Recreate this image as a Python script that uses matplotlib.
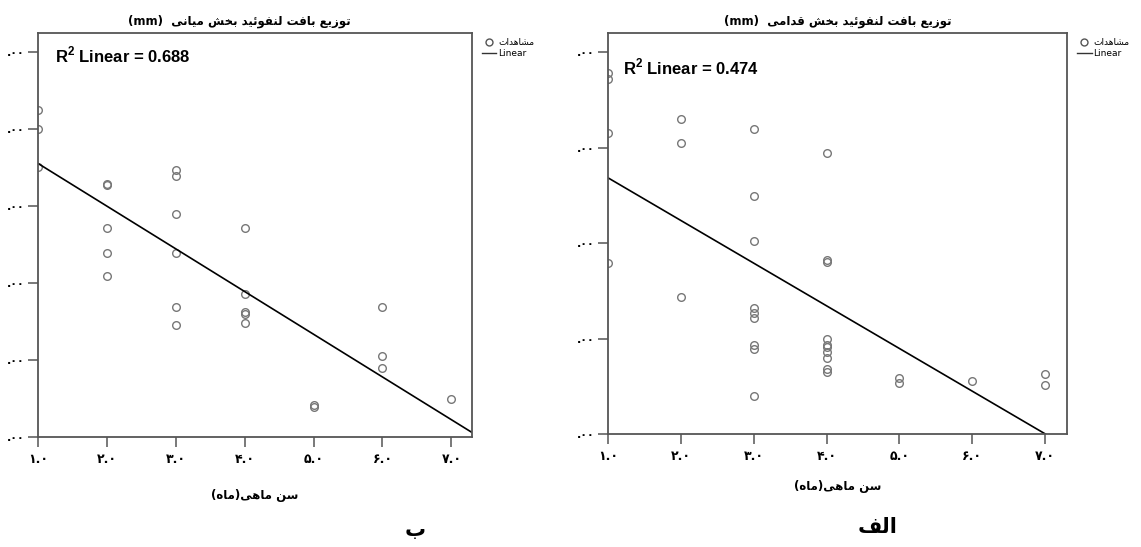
import matplotlib
matplotlib.use("Agg")
import matplotlib.pyplot as plt
from matplotlib.lines import Line2D

plt.rcParams["mathtext.fontset"] = "custom"
plt.rcParams["mathtext.rm"] = "Liberation Sans:bold"
plt.rcParams["mathtext.bf"] = "Liberation Sans:bold"

# ---- data (y in tick-step units) ----
left_x = [1, 1, 1, 2, 2, 2, 2, 2, 3, 3, 3, 3, 3, 3, 4, 4, 4, 4, 4, 5, 5, 6, 6, 6, 7]
left_y = [4.25, 4.00, 3.51, 3.29, 3.27, 2.71, 2.39, 2.09, 3.47, 3.39, 2.90, 2.39, 1.69, 1.45,
          2.71, 1.86, 1.62, 1.60, 1.48, 0.41, 0.39, 1.69, 1.05, 0.90, 0.49]
right_x = [1, 1, 1, 1, 2, 2, 2, 3, 3, 3, 3, 3, 3, 3, 3, 3,
           4, 4, 4, 4, 4, 4, 4, 4, 4, 4, 5, 5, 6, 7, 7]
right_y = [3.78, 3.72, 3.15, 1.79, 3.30, 3.05, 1.43, 3.19, 2.49, 2.02, 1.32, 1.27, 1.22, 0.93,
           0.89, 0.40, 2.94, 1.82, 1.80, 1.00, 0.93, 0.91, 0.86, 0.80, 0.68, 0.65, 0.59, 0.53,
           0.55, 0.63, 0.51]
fit_left = (4.11, -0.555)    # intercept, slope of the drawn fit line
fit_right = (3.13, -0.447)
r2_left = 0.688
r2_right = 0.474

x_ticks = [1, 2, 3, 4, 5, 6, 7]
x_tick_labels = ["۱.۰", "۲.۰", "۳.۰", "۴.۰", "۵.۰", "۶.۰", "۷.۰"]
left_y_ticks = [0, 1, 2, 3, 4, 5]
right_y_ticks = [0, 1, 2, 3, 4]
y_tick_label = ".۰۰"

title_left = "توزیع بافت لنفوئید بخش میانی"
title_right = "توزیع بافت لنفوئید بخش قدامی"
x_label = "سن ماهی(ماه)"
legend_obs = "مشاهدات"
panel_left = "ب"
panel_right = "الف"

# ---- minimal Persian shaping (matplotlib has no bidi / joining) ----
FORMS = {  # iso, fin, ini, med
    "ا": ("\uFE8D", "\uFE8E", None, None),
    "ب": ("\uFE8F", "\uFE90", "\uFE91", "\uFE92"),
    "ت": ("\uFE95", "\uFE96", "\uFE97", "\uFE98"),
    "خ": ("\uFEA5", "\uFEA6", "\uFEA7", "\uFEA8"),
    "د": ("\uFEA9", "\uFEAA", None, None),
    "ز": ("\uFEAF", "\uFEB0", None, None),
    "س": ("\uFEB1", "\uFEB2", "\uFEB3", "\uFEB4"),
    "ش": ("\uFEB5", "\uFEB6", "\uFEB7", "\uFEB8"),
    "ع": ("\uFEC9", "\uFECA", "\uFECB", "\uFECC"),
    "ف": ("\uFED1", "\uFED2", "\uFED3", "\uFED4"),
    "ق": ("\uFED5", "\uFED6", "\uFED7", "\uFED8"),
    "ل": ("\uFEDD", "\uFEDE", "\uFEDF", "\uFEE0"),
    "م": ("\uFEE1", "\uFEE2", "\uFEE3", "\uFEE4"),
    "ن": ("\uFEE5", "\uFEE6", "\uFEE7", "\uFEE8"),
    "ه": ("\uFEE9", "\uFEEA", "\uFEEB", "\uFEEC"),
    "و": ("\uFEED", "\uFEEE", None, None),
    "ئ": ("\uFE89", "\uFE8A", "\uFE8B", "\uFE8C"),
    "ی": ("\uFEEF", "\uFEF0", "\uFEF3", "\uFEF4"),
}


def dual(c):
    return c in FORMS and FORMS[c][2] is not None


def rtl(s):
    out = []
    for i, c in enumerate(s):
        if c not in FORMS:
            out.append({"(": ")", ")": "("}.get(c, c))
            continue
        prev_j = i > 0 and dual(s[i - 1])
        next_j = dual(c) and i + 1 < len(s) and s[i + 1] in FORMS
        iso, fin, ini, med = FORMS[c]
        if prev_j and next_j:
            out.append(med)
        elif prev_j:
            out.append(fin)
        elif next_j:
            out.append(ini)
        else:
            out.append(iso)
    return "".join(reversed(out))


AR = ["DejaVu Sans"]
GREY = "#555555"


def panel(ax, xs, ys, fit, r2, yticks, ylim_top, title, title_x, label_y, r2_pos):
    ax.plot(xs, ys, ls="none", marker="o", ms=5.5, mfc="none", mec="#777777", mew=1.0)
    a, b = fit
    xl = [1, 7.3]
    ax.plot(xl, [a + b * v for v in xl], color="black", lw=1.2)
    ax.set_xlim(1, 7.3)
    ax.set_ylim(0, ylim_top)
    ax.set_xticks(x_ticks)
    ax.set_xticklabels(x_tick_labels, family=AR, fontsize=9, fontweight="bold")
    ax.set_yticks(yticks)
    ax.set_yticklabels([y_tick_label] * len(yticks), family=AR, fontsize=8, fontweight="bold")
    ax.tick_params(direction="out", length=7.5, width=1.1, color=GREY, pad=2)
    ax.tick_params(axis="x", pad=4)
    for s in ax.spines.values():
        s.set_color(GREY)
        s.set_linewidth(1.3)
    ax.text(r2_pos[0], r2_pos[1], r"R$^{\mathbf{2}}$ Linear = %.3f" % r2, transform=ax.transAxes,
            family="Liberation Sans", fontweight="bold", fontsize=12, va="center", ha="left")
    ax.set_title("(mm)  " + rtl(title), family=AR, fontsize=8.5, fontweight="bold", pad=6,
                 x=title_x)
    ax.text(0.5, label_y, rtl(x_label), transform=ax.transAxes, ha="center", va="center",
            family=AR, fontsize=8.5, fontweight="bold")
    handles = [Line2D([], [], ls="none", marker="o", ms=5, mfc="none", mec="#555555", mew=1.0),
               Line2D([], [], color="#333333", lw=1.0)]
    ax.legend(handles, [rtl(legend_obs), "Linear"], loc="upper left",
              bbox_to_anchor=(1.01, 1.0), frameon=False, prop={"family": AR, "size": 6.5},
              handlelength=1.6, handletextpad=0.2, labelspacing=0.15, borderaxespad=0.2)


fig = plt.figure(figsize=(11.41, 5.47), dpi=100)
ax_l = fig.add_axes([0.0333, 0.2011, 0.3804, 0.7386])
ax_r = fig.add_axes([0.5329, 0.2066, 0.4023, 0.7331])

panel(ax_l, left_x, left_y, fit_left, r2_left, left_y_ticks, 5.25, title_left, 0.463, -0.145,
      (0.039, 0.946))
panel(ax_r, right_x, right_y, fit_right, r2_right, right_y_ticks, 4.2, title_right, 0.5, -0.13,
      (0.033, 0.915))

fig.text(415 / 1141, 1 - 530 / 547, rtl(panel_left), family=AR, fontsize=15,
         fontweight="bold", ha="center", va="center")
fig.text(878 / 1141, 1 - 527 / 547, rtl(panel_right), family=AR, fontsize=15,
         fontweight="bold", ha="center", va="center")

fig.savefig("out.png", dpi=100)
